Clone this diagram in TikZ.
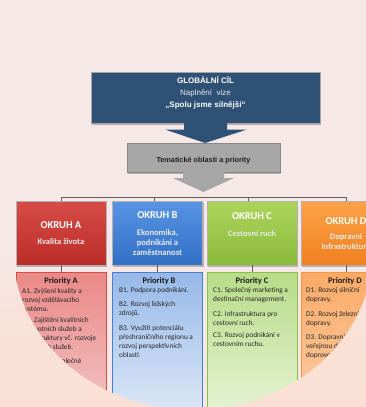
\documentclass[tikz,border=0pt]{standalone}
\usepackage{fontspec}
\setmainfont{Carlito}
\newfontfamily\arialf{Liberation Sans}
\usetikzlibrary{shadows}

\definecolor{bgpink}{RGB}{246,232,231}
\definecolor{peach}{RGB}{250,224,212}
\definecolor{navy}{RGB}{48,81,118}
\definecolor{grayfill}{RGB}{166,166,166}
\definecolor{grayedge}{RGB}{135,135,135}
\definecolor{conn}{RGB}{95,95,95}
\definecolor{redtop}{RGB}{216,76,72}
\definecolor{redbot}{RGB}{186,44,40}
\definecolor{bluetop}{RGB}{88,148,228}
\definecolor{bluebot}{RGB}{50,112,198}
\definecolor{greentop}{RGB}{172,212,92}
\definecolor{greenbot}{RGB}{138,186,58}
\definecolor{orangetop}{RGB}{252,162,72}
\definecolor{orangebot}{RGB}{240,128,32}
\definecolor{paTop}{RGB}{234,136,134}
\definecolor{paBot}{RGB}{242,196,196}
\definecolor{paEdge}{RGB}{205,78,74}
\definecolor{pbTop}{RGB}{150,184,232}
\definecolor{pbBot}{RGB}{220,232,247}
\definecolor{pbEdge}{RGB}{72,126,205}
\definecolor{pcTop}{RGB}{183,220,135}
\definecolor{pcBot}{RGB}{230,242,212}
\definecolor{pcEdge}{RGB}{140,192,78}
\definecolor{pdTop}{RGB}{250,170,102}
\definecolor{pdBot}{RGB}{252,206,168}
\definecolor{pdEdge}{RGB}{245,150,70}

\tikzset{
  shadowed/.style={drop shadow={shadow xshift=1pt,shadow yshift=-1.5pt,opacity=0.25,fill=black}},
  okbox/.style={minimum width=90pt,minimum height=64pt,inner sep=0pt,draw=black!30,line width=0.4pt,shadowed},
  pbox/.style={minimum width=90pt,minimum height=140pt,inner sep=0pt,anchor=north,line width=0.9pt},
  hdtxt/.style={inner sep=0pt,anchor=base,text=white,font=\arialf\fontsize{8}{9.6}\selectfont},
  oktitle/.style={inner sep=0pt,anchor=base,text=white,font=\bfseries\fontsize{10.5}{12}\selectfont},
  oksub/.style={inner sep=0pt,anchor=base,text=white!92!black,font=\bfseries\fontsize{8.5}{10}\selectfont},
  ptitle/.style={inner sep=0pt,anchor=base,text=black!90,font=\bfseries\fontsize{8.5}{10}\selectfont},
  ptxt/.style={inner sep=0pt,anchor=base west,text=black!85,font=\fontsize{7.3}{9}\selectfont},
  link/.style={draw=conn,line width=0.8pt}
}

% one paragraph of a priority list, one line per node
\newcommand\plines[4]{%
  \foreach \ln [count=\k from 0] in {#4} {\node[ptxt] (#1-\k) at (#2,#3+\k*9) {\ln};}}

\begin{document}
\begin{tikzpicture}[x=1pt,y=-1pt]
\fill[bgpink] (0,0) rectangle (366,407);
\useasboundingbox (0,0) rectangle (366,407);
\clip (0,0) rectangle (366,407);

% global goal
\node[minimum width=229pt,minimum height=51pt,inner sep=0pt,fill=navy,draw=black!35,line width=0.4pt,shadowed] (glob) at (205.5,97.5) {};
\node[hdtxt,font=\arialf\bfseries\fontsize{8}{9.6}\selectfont] (g1) at (205.5,83.9) {GLOBÁLNÍ CÍL};
\node[hdtxt,text=white!88!navy] (g2) at (205.5,95.3) {Naplnění\ \ vize};
\node[hdtxt,font=\arialf\bfseries\fontsize{8}{9.6}\selectfont] (g3) at (205.5,107) {„Spolu jsme silnější“};

% arrow down to the themes box
\fill[navy] (184,123) -- (184,129.5) -- (165,129.5) -- (205,143) -- (247,129.5) -- (227,129.5) -- (227,123) -- cycle;

% themes and priorities
\node[minimum width=153pt,minimum height=29pt,inner sep=0pt,fill=grayfill,draw=grayedge,line width=0.5pt,shadowed] (them) at (203.5,157.5) {};
\node[inner sep=0pt,anchor=base,font=\arialf\bfseries\fontsize{7.3}{9}\selectfont,text=black!88] (themt) at (203.5,162.3) {Tematické oblasti a priority};
\fill[grayfill] (183,172) -- (183,178) -- (173,178) -- (203.5,192) -- (234,178) -- (224,178) -- (224,172) -- cycle;

% the four areas
\node[okbox,top color=redtop,bottom color=redbot] (ka) at (61,233) {};
\node[okbox,top color=bluetop,bottom color=bluebot] (kb) at (157.5,233) {};
\node[okbox,top color=greentop,bottom color=greenbot] (kc) at (252,233) {};
\node[okbox,top color=orangetop,bottom color=orangebot] (kd) at (346,233) {};

\coordinate (bus) at (0,197);
\draw[link] (ka.north) -- (ka.north |- bus) -- (kd.north |- bus) -- (kd.north);
\draw[link] ([xshift=-3.5pt]kb.north) -- ([xshift=-3.5pt]kb.north |- bus);
\draw[link] ([xshift=-4pt]kc.north) -- ([xshift=-4pt]kc.north |- bus);

\node[oktitle] (ka1) at (61,228.4) {OKRUH A};
\node[oksub] (ka2) at (61,244.8) {Kvalita života};
\node[oktitle] (kb1) at (157.5,218.4) {OKRUH B};
\node[oksub] (kb2) at (157.5,235.5) {Ekonomika,};
\node[oksub] (kb3) at (157.5,245.3) {podnikání a};
\node[oksub] (kb4) at (157.5,255.3) {zaměstnanost};
\node[oktitle] (kc1) at (252,219.4) {OKRUH C};
\node[oksub] (kc2) at (252,236.1) {Cestovní ruch};
\node[oktitle] (kd1) at (346,224.1) {OKRUH D};
\node[oksub] (kd2) at (346,239.5) {Dopravní};
\node[oksub] (kd3) at (346,249.5) {infrastruktura};

% priorities
\node[pbox,top color=paTop,bottom color=paBot,draw=paEdge] (pa) at (61,272) {};
\node[pbox,top color=pbTop,bottom color=pbBot,draw=pbEdge] (pb) at (157.5,272) {};
\node[pbox,top color=pcTop,bottom color=pcBot,draw=pcEdge] (pc) at (252,272) {};
\node[pbox,top color=pdTop,bottom color=pdBot,draw=pdEdge] (pd) at (346,272) {};
\foreach \k in {a,b,c,d} \draw[link] (k\k.south) -- (p\k.north);

\node[ptitle] (pat) at (61,283.7) {Priority A};
\plines{pa1}{22}{293}{A1. Zvýšení kvality a,rozvoj vzdělávacího,systému.}
\plines{pa2}{22}{322.5}{A2. Zajištění kvalitních,zdravotních služeb a,infrastruktury vč. rozvoje,sociálních služeb.}
\plines{pa3}{22}{363}{A3. Rozvoj společné}

\node[ptitle] (pbt) at (159,283.7) {Priority B};
\plines{pb1}{119}{292.5}{B1. Podpora podnikání.}
\plines{pb2}{119}{306.5}{B2. Rozvoj lidských,zdrojů.}
\plines{pb3}{119}{330}{B3. Využití potenciálu,přeshraničního regionu a,rozvoj perspektivních,oblastí.}

\node[ptitle] (pct) at (252,283.7) {Priority C};
\plines{pc1}{213}{292.5}{C1. Společný marketing a,destinační management.}
\plines{pc2}{213}{316.5}{C2. Infrastruktura pro,cestovní ruch.}
\plines{pc3}{213}{337.5}{C3. Rozvoj podnikání v,cestovním ruchu.}

\node[ptitle] (pdt) at (345,283.7) {Priority D};
\plines{pd1}{306}{292}{D1. Rozvoj silniční,dopravy.}
\plines{pd2}{306}{316}{D2. Rozvoj železniční,dopravy.}
\plines{pd3}{306}{339}{D3. Dopravní obslužnost,veřejnou dopravou,doprovodná}

% soft backdrop framing the lower part: everything below the oval
\shade[top color=bgpink,bottom color=peach,middle color=peach!80!bgpink]
  (-2,250) -- (13,250)
  -- plot[domain=180:0,samples=90] ({193+180*cos(\x)},{250+160*sin(\x)})
  -- (368,250) -- (368,410) -- (-2,410) -- cycle;
\end{tikzpicture}
\end{document}
